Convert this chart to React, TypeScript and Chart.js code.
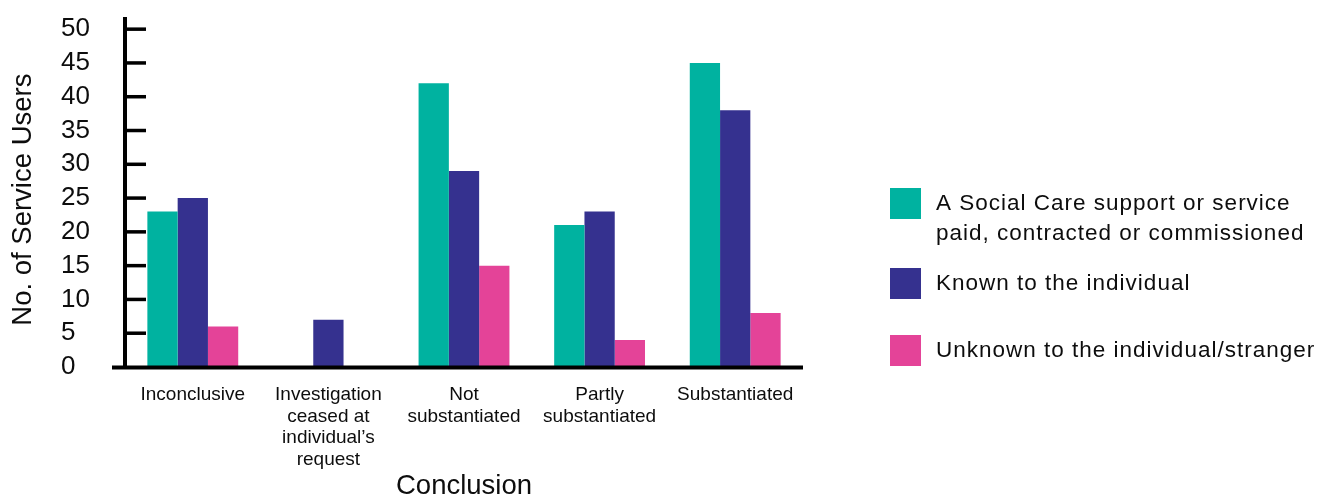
import React, { useEffect, useRef } from 'react';
import { Chart, registerables } from 'chart.js';

Chart.register(...registerables);

// ---------- data ----------
const categories: string[][] = [
  ['Inconclusive'],
  ['Investigation', 'ceased at', 'individual’s', 'request'],
  ['Not', 'substantiated'],
  ['Partly', 'substantiated'],
  ['Substantiated'],
];
const socialCareValues = [23, 0, 42, 21, 45];
const knownValues = [25, 7, 29, 23, 38];
const unknownValues = [6, 0, 15, 4, 8];
const seriesNames = [
  'A Social Care support or service paid, contracted or commissioned',
  'Known to the individual',
  'Unknown to the individual/stranger',
];
const legendLines: string[][] = [
  ['A Social Care support or service', 'paid, contracted or commissioned'],
  ['Known to the individual'],
  ['Unknown to the individual/stranger'],
];
const yTickValues = [0, 5, 10, 15, 20, 25, 30, 35, 40, 45, 50];
const seriesColors = ['#00B2A0', '#35318F', '#E44398'];
const yTitle = 'No. of Service Users';
const xTitle = 'Conclusion';

const FONT = '"Liberation Sans", Arial, Helvetica, sans-serif';
const TEXT = '#0d0d0d';

const axesPlugin = {
  id: 'customAxes',
  afterDatasetsDraw(chart: any) {
    const { ctx, chartArea } = chart;
    const { left, top, right, bottom } = chartArea;
    const y = chart.scales.y;
    ctx.save();
    ctx.fillStyle = '#000';
    ctx.fillRect(left - 2, top, 4, bottom - top);
    y.ticks.forEach((t: any) => {
      if (t.value === 0) return;
      const py = y.getPixelForValue(t.value);
      ctx.fillRect(left, py - 1.75, 21, 3.5);
    });
    ctx.fillRect(left - 13, bottom - 1.5, right - left + 13, 4);
    ctx.restore();
  },
};

const legendPlugin = {
  id: 'sideLegend',
  afterDraw(chart: any) {
    const ctx = chart.ctx;
    ctx.save();
    ctx.font = `22.5px ${FONT}`;
    try { (ctx as any).letterSpacing = '1px'; } catch (e) {}
    ctx.textBaseline = 'middle';
    ctx.textAlign = 'left';
    const tops = [188, 268, 335];
    chart.data.datasets.forEach((ds: any, i: number) => {
      ctx.fillStyle = ds.backgroundColor;
      ctx.fillRect(890, tops[i], 31, 31);
      ctx.fillStyle = TEXT;
      legendLines[i].forEach((line, j) => {
        ctx.fillText(line, 936, tops[i] + 16 + j * 29.5);
      });
    });
    ctx.restore();
  },
};

export default function App() {
  const canvasRef = useRef<HTMLCanvasElement | null>(null);

  useEffect(() => {
    if (!canvasRef.current) return;
    const chart = new Chart(canvasRef.current, {
      type: 'bar',
      data: {
        labels: categories,
        datasets: [
          { label: seriesNames[0], data: socialCareValues, backgroundColor: seriesColors[0] },
          { label: seriesNames[1], data: knownValues, backgroundColor: seriesColors[1] },
          { label: seriesNames[2], data: unknownValues, backgroundColor: seriesColors[2] },
        ].map((d) => ({ ...d, borderWidth: 0, barPercentage: 1, categoryPercentage: 0.67 })),
      },
      options: {
        responsive: false,
        animation: false,
        layout: { padding: { left: 0, top: 17, right: 520, bottom: 0 } },
        plugins: {
          legend: { display: false },
          tooltip: { enabled: false },
        },
        scales: {
          x: {
            grid: { display: false, drawTicks: false },
            border: { display: false },
            ticks: {
              color: TEXT,
              font: { family: FONT, size: 19, lineHeight: 1.14 },
              padding: 17,
              maxRotation: 0,
              autoSkip: false,
            },
            title: {
              display: true,
              text: xTitle,
              color: TEXT,
              font: { family: FONT, size: 27.5, lineHeight: 0.7 },
              padding: 0,
            },
            afterFit(scale: any) {
              scale.height = 129;
              scale.paddingLeft = 0;
              scale.paddingRight = 0;
            },
          },
          y: {
            min: 0,
            max: 51.8,
            grid: { display: false, drawTicks: false },
            border: { display: false },
            afterBuildTicks(scale: any) {
              scale.ticks = yTickValues.map((v) => ({ value: v }));
            },
            ticks: {
              color: TEXT,
              font: { family: FONT, size: 26 },
              padding: 35,
              autoSkip: false,
              callback: (v: any) => (Number(v) < 10 ? `${v}  ` : `${v}`),
            },
            title: {
              display: true,
              text: yTitle + '  ',
              color: TEXT,
              font: { family: FONT, size: 27.5, lineHeight: 1.2 },
              padding: { top: 7, bottom: 0 },
            },
            afterFit(scale: any) {
              scale.width = 125;
              scale.paddingTop = 0;
              scale.paddingBottom = 0;
            },
          },
        },
      },
      plugins: [axesPlugin, legendPlugin],
    } as any);
    return () => chart.destroy();
  }, []);

  return (
    <div style={{ position: 'fixed', left: 0, top: 0, width: 1323, height: 496, background: '#fff' }}>
      <canvas ref={canvasRef} width={1323} height={496} style={{ width: 1323, height: 496, display: 'block' }} />
    </div>
  );
}
